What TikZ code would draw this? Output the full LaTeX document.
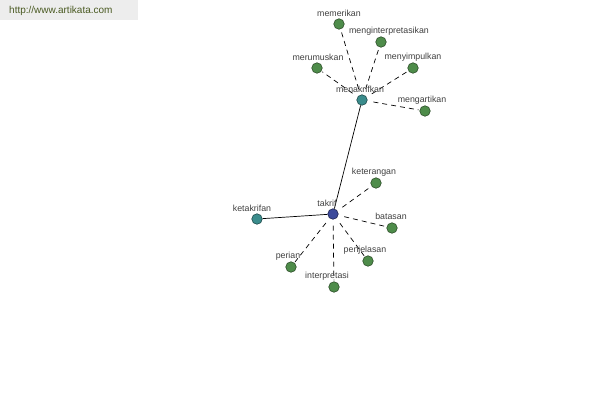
\documentclass[tikz,border=0pt]{standalone}
\usepackage{fontspec}
\setmainfont{Liberation Sans}
\definecolor{leaf}{HTML}{4E8C4A}
\definecolor{leafd}{HTML}{2E4E2A}
\definecolor{tealn}{HTML}{3A8C8C}
\definecolor{teald}{HTML}{1E4A4A}
\definecolor{bluen}{HTML}{3C4A9C}
\definecolor{blued}{HTML}{1E2450}
\definecolor{labc}{HTML}{404040}
\definecolor{urlc}{HTML}{4A5A22}
\definecolor{urlbg}{HTML}{EDEDED}
\tikzset{
  dot/.style={circle, draw=leafd, fill=leaf, minimum size=10.5pt, inner sep=0pt, line width=0.6pt},
  tdot/.style={dot, draw=teald, fill=tealn},
  bdot/.style={dot, draw=blued, fill=bluen},
  lab/.style={font=\fontsize{8.8}{9}\selectfont, text=labc, inner sep=0pt},
  solidedge/.style={draw=black, line width=0.7pt},
  dashedge/.style={draw=black, line width=0.7pt, dash pattern=on 5pt off 4pt, shorten <=6pt, shorten >=1pt}
}
\begin{document}
\begin{tikzpicture}[x=1pt,y=-1pt]
\useasboundingbox[fill=white] (0,0) rectangle (600,400);
\fill[urlbg] (0,0) rectangle (138,20);
\node[anchor=west, font=\fontsize{10}{11}\selectfont, text=urlc, inner sep=0pt] (url) at (9,11) {http://www.artikata.com};

% hubs
\node[bdot] (takrif) at (333,214) {};
\node[tdot] (menakrifkan) at (362,100) {};
\node[tdot] (ketakrifan) at (257,219) {};
% leaves of takrif
\node[dot] (keterangan) at (376,183) {};
\node[dot] (batasan) at (392,228) {};
\node[dot] (penjelasan) at (368,261) {};
\node[dot] (interpretasi) at (334,287) {};
\node[dot] (perian) at (291,267) {};
% leaves of menakrifkan
\node[dot] (memerikan) at (339,24) {};
\node[dot] (menginterpretasikan) at (381,42) {};
\node[dot] (merumuskan) at (317,68) {};
\node[dot] (menyimpulkan) at (413,68) {};
\node[dot] (mengartikan) at (425,111) {};

% edges
\path[solidedge] (takrif) -- (menakrifkan);
\path[solidedge] (takrif) -- (ketakrifan);
\foreach \n in {keterangan,batasan,penjelasan,interpretasi,perian}
  \path[dashedge] (takrif) -- (\n);
\foreach \n in {memerikan,menginterpretasikan,merumuskan,menyimpulkan,mengartikan}
  \path[dashedge] (menakrifkan) -- (\n);

% labels
\node[lab] (l1) at (327,203) {takrif};
\node[lab] (l2) at (360,89) {menakrifkan};
\node[lab] (l3) at (252,208) {ketakrifan};
\node[lab] (l4) at (374,172) {keterangan};
\node[lab] (l5) at (391,216) {batasan};
\node[lab] (l6) at (365,250) {penjelasan};
\node[lab] (l7) at (327,276) {interpretasi};
\node[lab] (l8) at (288,256) {perian};
\node[lab] (l9) at (339,13) {memerikan};
\node[lab] (l10) at (389,31) {menginterpretasikan};
\node[lab] (l11) at (318,57) {merumuskan};
\node[lab] (l12) at (413,57) {menyimpulkan};
\node[lab] (l13) at (422,100) {mengartikan};
\end{tikzpicture}
\end{document}
